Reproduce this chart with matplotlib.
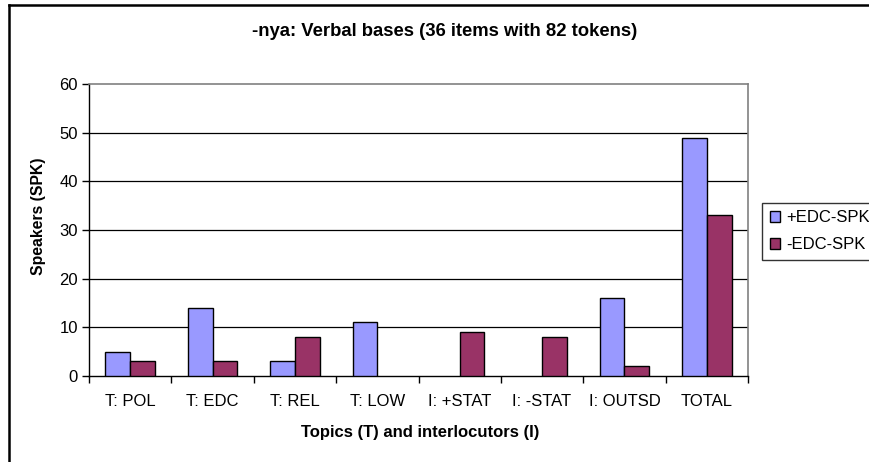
import numpy as np
import matplotlib
matplotlib.use('Agg')
import matplotlib.pyplot as plt
from matplotlib.lines import Line2D

plt.rcParams['font.family'] = ['Liberation Sans', 'DejaVu Sans']

CATEGORIES = ['T: POL', 'T: EDC', 'T: REL', 'T: LOW',
              'I: +STAT', 'I: -STAT', 'I: OUTSD', 'TOTAL']
PLUS_EDC = [5, 14, 3, 11, 0, 0, 16, 49]
MINUS_EDC = [3, 3, 8, 0, 9, 8, 2, 33]
SERIES_NAMES = ['+EDC-SPK', '-EDC-SPK']
Y_TICKS = [0, 10, 20, 30, 40, 50, 60]

W, H = 869, 462
fig = plt.figure(figsize=(W / 100, H / 100), dpi=100)
ax = fig.add_axes([89 / W, 1 - 376 / H, (748 - 89) / W, (376 - 84) / H])

x = np.arange(len(CATEGORIES))
bw = 0.3
plus = np.ma.masked_equal(PLUS_EDC, 0)
minus = np.ma.masked_equal(MINUS_EDC, 0)
b1 = ax.bar(x - bw / 2, plus, bw, color='#9999FF', edgecolor='black',
            linewidth=1, zorder=3, label=SERIES_NAMES[0])
b2 = ax.bar(x + bw / 2, minus, bw, color='#993366', edgecolor='black',
            linewidth=1, zorder=3, label=SERIES_NAMES[1])

ax.set_xlim(-0.5, len(CATEGORIES) - 0.5)
ax.set_ylim(0, 60)
ax.set_yticks(Y_TICKS)
ax.set_yticklabels([str(t) for t in Y_TICKS], fontsize=12)
ax.set_xticks(x)
ax.set_xticklabels(CATEGORIES, fontsize=12)
ax.set_xticks(np.arange(len(CATEGORIES) + 1) - 0.5, minor=True)
ax.tick_params(axis='x', which='major', length=0, pad=13)
ax.tick_params(axis='x', which='minor', length=5, width=1, color='black')
ax.tick_params(axis='y', length=5, width=1, color='black', pad=3)

for t in Y_TICKS[1:-1]:
    ax.axhline(t, color='black', linewidth=0.9, zorder=1)

for side in ['top', 'right']:
    ax.spines[side].set_color('#808080')
    ax.spines[side].set_linewidth(1.2)
for side in ['left', 'bottom']:
    ax.spines[side].set_color('black')
    ax.spines[side].set_linewidth(1)

fig.text(445 / W, 1 - 31 / H, '-nya: Verbal bases (36 items with 82 tokens)',
         ha='center', va='center', fontsize=13.3, fontweight='bold')
fig.text(420 / W, 1 - 432 / H, 'Topics (T) and interlocutors (I)',
         ha='center', va='center', fontsize=12, fontweight='bold')
fig.text(38 / W, 1 - 216 / H, 'Speakers (SPK)', rotation=90,
         ha='center', va='center', fontsize=11.3, fontweight='bold')

leg = fig.legend(handles=[b1, b2], labels=SERIES_NAMES, loc='upper left',
                 bbox_to_anchor=(762 / W, 1 - 203 / H), fontsize=12,
                 frameon=True, fancybox=False, shadow=False,
                 handlelength=0.65, handleheight=0.65, handletextpad=0.35,
                 borderpad=0.45, labelspacing=0.7, borderaxespad=0)
leg.get_frame().set_edgecolor('black')
leg.get_frame().set_linewidth(1)

# outer chart border (only left and top visible in the crop)
fig.add_artist(Line2D([9 / W, 9 / W], [0, 1 - 5 / H], color='black',
                      linewidth=1.8, transform=fig.transFigure))
fig.add_artist(Line2D([9 / W, 1], [1 - 5 / H, 1 - 5 / H], color='black',
                      linewidth=1.8, transform=fig.transFigure))

fig.savefig('out.png', dpi=100)
